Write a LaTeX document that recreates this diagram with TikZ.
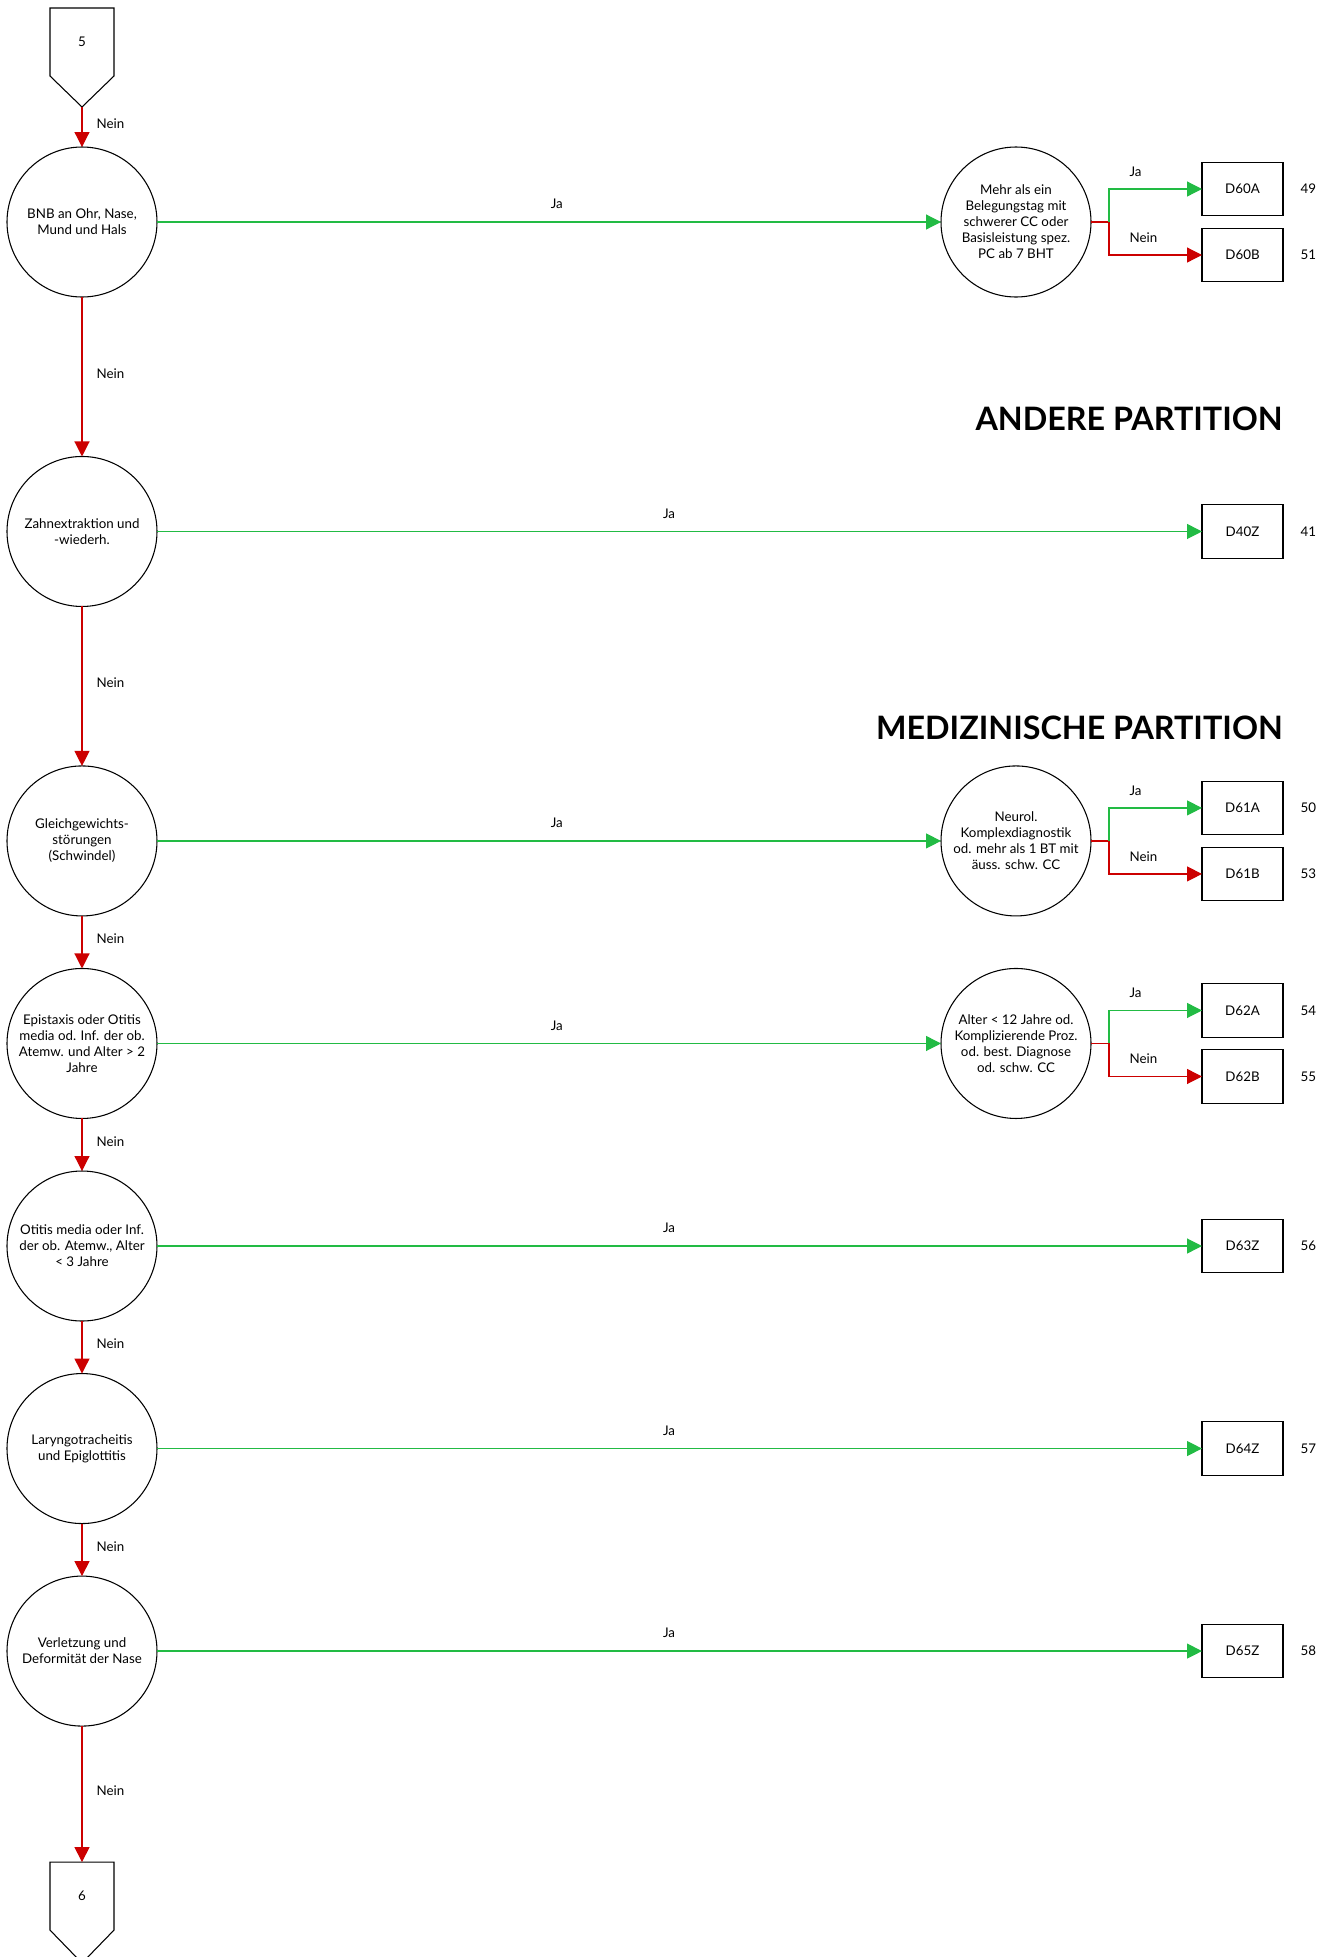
\documentclass[tikz,border=0pt]{standalone}
\usepackage{fontspec}
\setmainfont{Lato}
\usetikzlibrary{positioning, arrows.meta, calc}
\definecolor{JaGreen}{HTML}{22BB44}
\definecolor{NeinRed}{HTML}{CC0000}

\begin{document}
\begin{tikzpicture}[
  x=0.75pt, y=-0.75pt,
  font=\fontsize{10}{12}\selectfont,
  query/.style={draw, circle, line width=0.8pt, align=center, minimum size=112.5pt, inner sep=0pt, outer sep=0pt},
  subq/.style={query},
  leaf/.style={draw, line width=0.8pt, minimum width=60.75pt, minimum height=40pt, inner sep=0pt, outer sep=0pt},
  pager/.style={minimum width=48pt, minimum height=51pt, inner sep=0pt, outer sep=0pt},
  ja/.style={draw=JaGreen, line width=0.9pt, -{Triangle[length=11.25pt, width=11.25pt]}},
  nein/.style={draw=NeinRed, line width=0.9pt, -{Triangle[length=11.25pt, width=11.25pt]}},
  lbl/.style={midway, right=10.5pt, yshift=2.5pt, inner sep=0pt},
  jalbl/.style={pos=0.51, above=9.5pt, inner sep=0pt},
  brlbl/.style={pos=0.5, anchor=south west, xshift=15pt, yshift=9pt, inner sep=0pt},
  num/.style={right=13pt of #1, inner sep=0pt},
  heading/.style={font=\fontsize{24.2}{29}\selectfont\bfseries, inner sep=0pt}
]
\useasboundingbox (0,0) rectangle (1320,1957);

% main column
\node[pager] (p5) at (82,42) {5};
\node[query, below=53.25pt of p5] (q1) {BNB an Ohr, Nase,\\Mund und Hals};
\node[query, below=119.6pt of q1] (q2) {Zahnextraktion und\\-wiederh.};
\node[query, below=119.6pt of q2] (q3) {Gleichgewichts-\\störungen\\(Schwindel)};
\node[query, below=39.4pt of q3] (q4) {Epistaxis oder Otitis\\media od. Inf. der ob.\\Atemw. und Alter > 2\\Jahre};
\node[query, below=39.4pt of q4] (q5) {Otitis media oder Inf.\\der ob. Atemw., Alter\\< 3 Jahre};
\node[query, below=39.4pt of q5] (q6) {Laryngotracheitis\\und Epiglottitis};
\node[query, below=39.4pt of q6] (q7) {Verletzung und\\Deformität der Nase};
\node[pager, below=102pt of q7] (p6) {6};

% off-page connectors
\coordinate (p5tip) at ($(p5.south)+(0,31)$);
\coordinate (p6tip) at ($(p6.south)+(0,33)$);
\draw[line width=0.8pt] (p5.north west) -- (p5.south west) -- (p5tip) -- (p5.south east) -- (p5.north east) -- cycle;
\draw[line width=0.8pt] (p6.north west) -- (p6.south west) -- (p6tip) -- (p6.south east) -- (p6.north east) -- cycle;

% sub questions
\node[subq, right=588pt of q1] (d1) {Mehr als ein\\Belegungstag mit\\schwerer CC oder\\Basisleistung spez.\\PC ab 7 BHT};
\node[subq, right=588pt of q3] (d3) {Neurol.\\Komplexdiagnostik\\od. mehr als 1 BT mit\\äuss. schw. CC};
\node[subq, right=588pt of q4] (d4) {Alter < 12 Jahre od.\\Komplizierende Proz.\\od. best. Diagnose\\od. schw. CC};

% DRG boxes
\node[leaf, right=83.25pt of d1, yshift=24.75pt] (b60a) {D60A};
\node[leaf, right=83.25pt of d1, yshift=-24.75pt] (b60b) {D60B};
\node[leaf, right=783.75pt of q2] (b40z) {D40Z};
\node[leaf, right=83.25pt of d3, yshift=24.75pt] (b61a) {D61A};
\node[leaf, right=83.25pt of d3, yshift=-24.75pt] (b61b) {D61B};
\node[leaf, right=83.25pt of d4, yshift=24.75pt] (b62a) {D62A};
\node[leaf, right=83.25pt of d4, yshift=-24.75pt] (b62b) {D62B};
\node[leaf, right=783.75pt of q5] (b63z) {D63Z};
\node[leaf, right=783.75pt of q6] (b64z) {D64Z};
\node[leaf, right=783.75pt of q7] (b65z) {D65Z};

% numbers
\node[num=b60a] (n49) {49};
\node[num=b60b] (n51) {51};
\node[num=b40z] (n41) {41};
\node[num=b61a] (n50) {50};
\node[num=b61b] (n53) {53};
\node[num=b62a] (n54) {54};
\node[num=b62b] (n55) {55};
\node[num=b63z] (n56) {56};
\node[num=b64z] (n57) {57};
\node[num=b65z] (n58) {58};

% partitions
\node[heading, above=55.4pt of b40z.north east, anchor=south east] (hAndere) {ANDERE PARTITION};
\node[heading, above=30.6pt of b61a.north east, anchor=south east] (hMed) {MEDIZINISCHE PARTITION};

% Nein chain
\draw[nein] (p5tip) -- node[lbl] {Nein} (q1);
\draw[nein] (q1) -- node[lbl] {Nein} (q2);
\draw[nein] (q2) -- node[lbl] {Nein} (q3);
\draw[nein] (q3) -- node[lbl] {Nein} (q4);
\draw[nein] (q4) -- node[lbl] {Nein} (q5);
\draw[nein] (q5) -- node[lbl] {Nein} (q6);
\draw[nein] (q6) -- node[lbl] {Nein} (q7);
\draw[nein] (q7) -- node[lbl] {Nein} (p6);

% Ja lines
\draw[ja] (q1) -- node[jalbl] {Ja} (d1);
\draw[ja] (q2) -- node[jalbl, pos=0.49] {Ja} (b40z);
\draw[ja] (q3) -- node[jalbl] {Ja} (d3);
\draw[ja] (q4) -- node[jalbl] {Ja} (d4);
\draw[ja] (q5) -- node[jalbl, pos=0.49] {Ja} (b63z);
\draw[ja] (q6) -- node[jalbl, pos=0.49] {Ja} (b64z);
\draw[ja] (q7) -- node[jalbl, pos=0.49] {Ja} (b65z);

% branches
\foreach \d/\a/\b in {d1/b60a/b60b, d3/b61a/b61b, d4/b62a/b62b} {
  \coordinate (\d bend) at ($(\d.east)+(18,0)$);
  \draw[nein] (\d.east) -- (\d bend) |- node[brlbl] {Nein} (\b);
  \draw[ja] (\d bend) |- node[brlbl] {Ja} (\a);
}
\end{tikzpicture}
\end{document}
